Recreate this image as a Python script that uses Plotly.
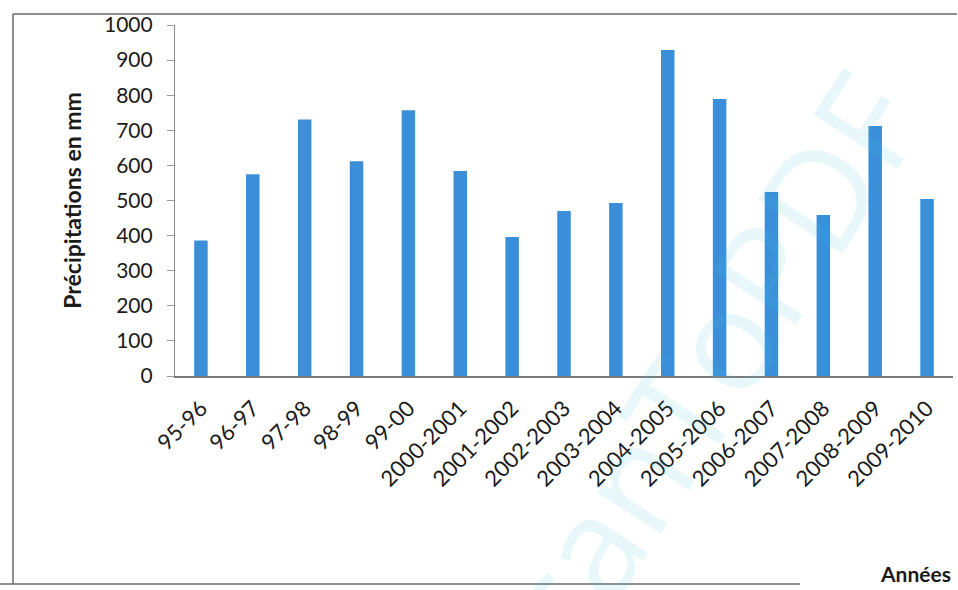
import plotly.graph_objects as go

# Précipitations annuelles par saison hydrologique
annees = ["95-96", "96-97", "97-98", "98-99", "99-00", "2000-2001", "2001-2002",
          "2002-2003", "2003-2004", "2004-2005", "2005-2006", "2006-2007",
          "2007-2008", "2008-2009", "2009-2010"]
precipitations = [386, 575, 731, 612, 757, 584, 396, 470, 493, 929, 789, 524, 459, 712, 504]
y_ticks = [0, 100, 200, 300, 400, 500, 600, 700, 800, 900, 1000]

W, H = 958, 590
L, R, T, B = 175, 5, 25, 214

fig = go.Figure()
fig.add_trace(go.Bar(
    x=annees, y=precipitations,
    marker=dict(color="#3a8fd8", line=dict(width=0)),
    width=0.26,
))

fig.update_layout(
    width=W, height=H,
    margin=dict(l=L, r=R, t=T, b=B),
    paper_bgcolor="white", plot_bgcolor="white",
    showlegend=False,
    font=dict(family="Lato, Carlito, sans-serif", color="#1a1a1a"),
    xaxis=dict(
        type="category",
        tickangle=-45,
        tickfont=dict(size=22, color="#1a1a1a"),
        ticklabelstandoff=9,
        showline=True, linecolor="#7a7a7a", linewidth=1.5,
        ticks="", showgrid=False,
        range=[-0.5, 14.5],
    ),
    yaxis=dict(
        range=[0, 1000],
        tickvals=y_ticks,
        tickfont=dict(size=21, color="#1a1a1a"),
        showline=True, linecolor="#8a8a8a", linewidth=1.2,
        ticks="outside", ticklen=7, tickcolor="#9a9a9a",
        ticklabelstandoff=10,
        showgrid=False, zeroline=False,
        title=dict(text="<b>Précipitations en mm</b>", font=dict(size=23), standoff=15),
    ),
)

# Titre de l'axe des abscisses, en bas à droite
fig.add_annotation(
    text="<b>Années</b>", xref="paper", yref="paper",
    x=1.0, y=-(573 - (H - B)) / (H - T - B),
    xanchor="right", yanchor="middle", showarrow=False,
    font=dict(size=21, color="#1a1a1a"),
)

# Filigrane diagonal
fig.add_annotation(
    text="ScanToPDF", xref="paper", yref="paper",
    x=(685 - L) / (W - L - R), y=1 - (395 - T) / (H - T - B),
    xanchor="center", yanchor="middle", showarrow=False,
    textangle=-57,
    font=dict(size=140, family="Open Sans, sans-serif", color="rgba(80,195,215,0.13)"),
)

# Cadre du graphique
frame = dict(type="line", xref="paper", yref="paper", line=dict(color="#6a6a6a", width=1.5))
x0 = (13 - L) / (W - L - R)
x1 = (957 - L) / (W - L - R)
yt = 1 - (14 - T) / (H - T - B)
yb = 1 - (584 - T) / (H - T - B)
fig.add_shape(x0=x0, x1=x1, y0=yt, y1=yt, **frame)
fig.add_shape(x0=x0, x1=x0, y0=yt, y1=yb, **frame)
fig.add_shape(x0=(0 - L) / (W - L - R), x1=(800 - L) / (W - L - R), y0=yb, y1=yb, **frame)

fig.write_html("out.html")
